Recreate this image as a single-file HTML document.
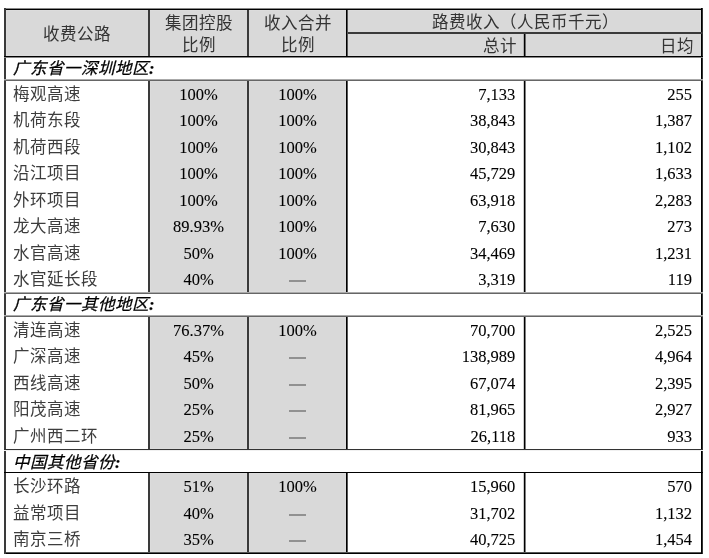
<!DOCTYPE html>
<html lang="zh-CN"><head><meta charset="utf-8"><title>路费收入</title>
<style>
html,body{margin:0;padding:0;background:#fff;}
body{width:709px;height:558px;position:relative;overflow:hidden;filter:grayscale(1);font-family:"Liberation Serif",serif;font-size:16.5px;color:#000;}
.r{position:absolute;}
.t{position:absolute;line-height:20px;height:20px;white-space:nowrap;}
.sec{font-style:italic;-webkit-text-stroke:0.25px #000;}
.c{color:#3d3d3d;}
.h{color:#333;}
.n{-webkit-text-stroke:0.1px #000;}
</style></head><body>
<div class="r" style="left:6px;top:10px;width:695px;height:46px;background:#d9d9d9;box-shadow:inset 0 0 0 1px #dcdcdc"></div>
<div class="r" style="left:150px;top:81px;width:97px;height:211px;background:#d9d9d9;box-shadow:inset 0 0 0 1px #dcdcdc"></div>
<div class="r" style="left:249px;top:81px;width:97px;height:211px;background:#d9d9d9;box-shadow:inset 0 0 0 1px #dcdcdc"></div>
<div class="r" style="left:150px;top:317px;width:97px;height:132px;background:#d9d9d9;box-shadow:inset 0 0 0 1px #dcdcdc"></div>
<div class="r" style="left:249px;top:317px;width:97px;height:132px;background:#d9d9d9;box-shadow:inset 0 0 0 1px #dcdcdc"></div>
<div class="r" style="left:150px;top:473px;width:97px;height:79px;background:#d9d9d9;box-shadow:inset 0 0 0 1px #dcdcdc"></div>
<div class="r" style="left:249px;top:473px;width:97px;height:79px;background:#d9d9d9;box-shadow:inset 0 0 0 1px #dcdcdc"></div>
<div class="r" style="left:4px;top:8px;width:699px;height:1px;background:#888888;"></div>
<div class="r" style="left:4px;top:9px;width:699px;height:1px;background:#000000;"></div>
<div class="r" style="left:4px;top:552px;width:699px;height:1px;background:#555555;"></div>
<div class="r" style="left:4px;top:553px;width:699px;height:1px;background:#000000;"></div>
<div class="r" style="left:4px;top:8px;width:1px;height:546px;background:#3a3a3a;"></div>
<div class="r" style="left:5px;top:8px;width:1px;height:546px;background:#3a3a3a;"></div>
<div class="r" style="left:701px;top:8px;width:1px;height:546px;background:#000000;"></div>
<div class="r" style="left:702px;top:8px;width:1px;height:546px;background:#333333;"></div>
<div class="r" style="left:346px;top:32px;width:357px;height:1px;background:#3a3a3a;"></div>
<div class="r" style="left:346px;top:33px;width:357px;height:1px;background:#3a3a3a;"></div>
<div class="r" style="left:4px;top:56px;width:699px;height:1px;background:#000000;"></div>
<div class="r" style="left:4px;top:57px;width:699px;height:1px;background:#888888;"></div>
<div class="r" style="left:4px;top:79px;width:699px;height:1px;background:#aaaaaa;"></div>
<div class="r" style="left:4px;top:80px;width:699px;height:1px;background:#666666;"></div>
<div class="r" style="left:4px;top:292px;width:699px;height:1px;background:#aaaaaa;"></div>
<div class="r" style="left:4px;top:293px;width:699px;height:1px;background:#666666;"></div>
<div class="r" style="left:4px;top:315px;width:699px;height:1px;background:#aaaaaa;"></div>
<div class="r" style="left:4px;top:316px;width:699px;height:1px;background:#666666;"></div>
<div class="r" style="left:4px;top:449px;width:699px;height:1px;background:#333333;"></div>
<div class="r" style="left:4px;top:450px;width:699px;height:1px;background:#f0f0f0;"></div>
<div class="r" style="left:4px;top:472px;width:699px;height:1px;background:#000000;"></div>
<div class="r" style="left:148px;top:10px;width:1px;height:46px;background:#3a3a3a;"></div>
<div class="r" style="left:149px;top:10px;width:1px;height:46px;background:#3a3a3a;"></div>
<div class="r" style="left:247px;top:10px;width:1px;height:46px;background:#3a3a3a;"></div>
<div class="r" style="left:248px;top:10px;width:1px;height:46px;background:#3a3a3a;"></div>
<div class="r" style="left:346px;top:10px;width:1px;height:46px;background:#000000;"></div>
<div class="r" style="left:347px;top:10px;width:1px;height:46px;background:#555555;"></div>
<div class="r" style="left:148px;top:81px;width:1px;height:211px;background:#3a3a3a;"></div>
<div class="r" style="left:149px;top:81px;width:1px;height:211px;background:#3a3a3a;"></div>
<div class="r" style="left:247px;top:81px;width:1px;height:211px;background:#3a3a3a;"></div>
<div class="r" style="left:248px;top:81px;width:1px;height:211px;background:#3a3a3a;"></div>
<div class="r" style="left:346px;top:81px;width:1px;height:211px;background:#000000;"></div>
<div class="r" style="left:347px;top:81px;width:1px;height:211px;background:#555555;"></div>
<div class="r" style="left:148px;top:317px;width:1px;height:132px;background:#3a3a3a;"></div>
<div class="r" style="left:149px;top:317px;width:1px;height:132px;background:#3a3a3a;"></div>
<div class="r" style="left:247px;top:317px;width:1px;height:132px;background:#3a3a3a;"></div>
<div class="r" style="left:248px;top:317px;width:1px;height:132px;background:#3a3a3a;"></div>
<div class="r" style="left:346px;top:317px;width:1px;height:132px;background:#000000;"></div>
<div class="r" style="left:347px;top:317px;width:1px;height:132px;background:#555555;"></div>
<div class="r" style="left:148px;top:473px;width:1px;height:79px;background:#3a3a3a;"></div>
<div class="r" style="left:149px;top:473px;width:1px;height:79px;background:#3a3a3a;"></div>
<div class="r" style="left:247px;top:473px;width:1px;height:79px;background:#3a3a3a;"></div>
<div class="r" style="left:248px;top:473px;width:1px;height:79px;background:#3a3a3a;"></div>
<div class="r" style="left:346px;top:473px;width:1px;height:79px;background:#000000;"></div>
<div class="r" style="left:347px;top:473px;width:1px;height:79px;background:#555555;"></div>
<div class="r" style="left:523px;top:34px;width:1px;height:22px;background:rgba(0,0,0,0.2);"></div>
<div class="r" style="left:524px;top:34px;width:1px;height:22px;background:#000000;"></div>
<div class="r" style="left:525px;top:34px;width:1px;height:22px;background:rgba(0,0,0,0.5);"></div>
<div class="r" style="left:523px;top:81px;width:1px;height:211px;background:rgba(0,0,0,0.2);"></div>
<div class="r" style="left:524px;top:81px;width:1px;height:211px;background:#000000;"></div>
<div class="r" style="left:525px;top:81px;width:1px;height:211px;background:rgba(0,0,0,0.5);"></div>
<div class="r" style="left:523px;top:317px;width:1px;height:132px;background:rgba(0,0,0,0.2);"></div>
<div class="r" style="left:524px;top:317px;width:1px;height:132px;background:#000000;"></div>
<div class="r" style="left:525px;top:317px;width:1px;height:132px;background:rgba(0,0,0,0.5);"></div>
<div class="r" style="left:523px;top:473px;width:1px;height:79px;background:rgba(0,0,0,0.2);"></div>
<div class="r" style="left:524px;top:473px;width:1px;height:79px;background:#000000;"></div>
<div class="r" style="left:525px;top:473px;width:1px;height:79px;background:rgba(0,0,0,0.5);"></div>
<div class="t c h" style="left:6px;top:25.00px;width:142px;text-align:center;">收费公路</div>
<div class="t c h" style="left:150px;top:14.00px;width:97px;text-align:center;">集团控股</div>
<div class="t c h" style="left:150px;top:36.00px;width:97px;text-align:center;">比例</div>
<div class="t c h" style="left:249px;top:14.00px;width:97px;text-align:center;">收入合并</div>
<div class="t c h" style="left:249px;top:36.00px;width:97px;text-align:center;">比例</div>
<div class="t c h" style="left:349px;top:13.00px;width:353px;text-align:center;">路费收入（人民币千元）</div>
<div class="t c h" style="left:348px;top:37.00px;width:169px;text-align:right;">总计</div>
<div class="t c h" style="left:526px;top:37.00px;width:168px;text-align:right;">日均</div>
<div class="t sec" style="left:13px;top:59.00px;width:300px;text-align:left;">广东省一深圳地区<b>:</b></div>
<div class="t c" style="left:13px;top:85.00px;width:135px;text-align:left;">梅观高速</div>
<div class="t n" style="left:150px;top:85.00px;width:97px;text-align:center;">100%</div>
<div class="t n" style="left:249px;top:85.00px;width:97px;text-align:center;">100%</div>
<div class="t n" style="left:348px;top:85.00px;width:167.3px;text-align:right;">7,133</div>
<div class="t n" style="left:526px;top:85.00px;width:166px;text-align:right;">255</div>
<div class="t c" style="left:13px;top:111.00px;width:135px;text-align:left;">机荷东段</div>
<div class="t n" style="left:150px;top:111.00px;width:97px;text-align:center;">100%</div>
<div class="t n" style="left:249px;top:111.00px;width:97px;text-align:center;">100%</div>
<div class="t n" style="left:348px;top:111.00px;width:167.3px;text-align:right;">38,843</div>
<div class="t n" style="left:526px;top:111.00px;width:166px;text-align:right;">1,387</div>
<div class="t c" style="left:13px;top:138.00px;width:135px;text-align:left;">机荷西段</div>
<div class="t n" style="left:150px;top:138.00px;width:97px;text-align:center;">100%</div>
<div class="t n" style="left:249px;top:138.00px;width:97px;text-align:center;">100%</div>
<div class="t n" style="left:348px;top:138.00px;width:167.3px;text-align:right;">30,843</div>
<div class="t n" style="left:526px;top:138.00px;width:166px;text-align:right;">1,102</div>
<div class="t c" style="left:13px;top:164.00px;width:135px;text-align:left;">沿江项目</div>
<div class="t n" style="left:150px;top:164.00px;width:97px;text-align:center;">100%</div>
<div class="t n" style="left:249px;top:164.00px;width:97px;text-align:center;">100%</div>
<div class="t n" style="left:348px;top:164.00px;width:167.3px;text-align:right;">45,729</div>
<div class="t n" style="left:526px;top:164.00px;width:166px;text-align:right;">1,633</div>
<div class="t c" style="left:13px;top:191.00px;width:135px;text-align:left;">外环项目</div>
<div class="t n" style="left:150px;top:191.00px;width:97px;text-align:center;">100%</div>
<div class="t n" style="left:249px;top:191.00px;width:97px;text-align:center;">100%</div>
<div class="t n" style="left:348px;top:191.00px;width:167.3px;text-align:right;">63,918</div>
<div class="t n" style="left:526px;top:191.00px;width:166px;text-align:right;">2,283</div>
<div class="t c" style="left:13px;top:217.00px;width:135px;text-align:left;">龙大高速</div>
<div class="t n" style="left:150px;top:217.00px;width:97px;text-align:center;">89.93%</div>
<div class="t n" style="left:249px;top:217.00px;width:97px;text-align:center;">100%</div>
<div class="t n" style="left:348px;top:217.00px;width:167.3px;text-align:right;">7,630</div>
<div class="t n" style="left:526px;top:217.00px;width:166px;text-align:right;">273</div>
<div class="t c" style="left:13px;top:244.00px;width:135px;text-align:left;">水官高速</div>
<div class="t n" style="left:150px;top:244.00px;width:97px;text-align:center;">50%</div>
<div class="t n" style="left:249px;top:244.00px;width:97px;text-align:center;">100%</div>
<div class="t n" style="left:348px;top:244.00px;width:167.3px;text-align:right;">34,469</div>
<div class="t n" style="left:526px;top:244.00px;width:166px;text-align:right;">1,231</div>
<div class="t c" style="left:13px;top:270.00px;width:135px;text-align:left;">水官延长段</div>
<div class="t n" style="left:150px;top:270.00px;width:97px;text-align:center;">40%</div>
<div class="r" style="left:289px;top:280px;width:17px;height:2px;background:#919191;"></div>
<div class="t n" style="left:348px;top:270.00px;width:167.3px;text-align:right;">3,319</div>
<div class="t n" style="left:526px;top:270.00px;width:166px;text-align:right;">119</div>
<div class="t sec" style="left:13px;top:295.00px;width:300px;text-align:left;">广东省一其他地区<b>:</b></div>
<div class="t c" style="left:13px;top:321.00px;width:135px;text-align:left;">清连高速</div>
<div class="t n" style="left:150px;top:321.00px;width:97px;text-align:center;">76.37%</div>
<div class="t n" style="left:249px;top:321.00px;width:97px;text-align:center;">100%</div>
<div class="t n" style="left:348px;top:321.00px;width:167.3px;text-align:right;">70,700</div>
<div class="t n" style="left:526px;top:321.00px;width:166px;text-align:right;">2,525</div>
<div class="t c" style="left:13px;top:347.00px;width:135px;text-align:left;">广深高速</div>
<div class="t n" style="left:150px;top:347.00px;width:97px;text-align:center;">45%</div>
<div class="r" style="left:289px;top:357px;width:17px;height:2px;background:#919191;"></div>
<div class="t n" style="left:348px;top:347.00px;width:167.3px;text-align:right;">138,989</div>
<div class="t n" style="left:526px;top:347.00px;width:166px;text-align:right;">4,964</div>
<div class="t c" style="left:13px;top:374.00px;width:135px;text-align:left;">西线高速</div>
<div class="t n" style="left:150px;top:374.00px;width:97px;text-align:center;">50%</div>
<div class="r" style="left:289px;top:384px;width:17px;height:2px;background:#919191;"></div>
<div class="t n" style="left:348px;top:374.00px;width:167.3px;text-align:right;">67,074</div>
<div class="t n" style="left:526px;top:374.00px;width:166px;text-align:right;">2,395</div>
<div class="t c" style="left:13px;top:400.00px;width:135px;text-align:left;">阳茂高速</div>
<div class="t n" style="left:150px;top:400.00px;width:97px;text-align:center;">25%</div>
<div class="r" style="left:289px;top:410px;width:17px;height:2px;background:#919191;"></div>
<div class="t n" style="left:348px;top:400.00px;width:167.3px;text-align:right;">81,965</div>
<div class="t n" style="left:526px;top:400.00px;width:166px;text-align:right;">2,927</div>
<div class="t c" style="left:13px;top:427.00px;width:135px;text-align:left;">广州西二环</div>
<div class="t n" style="left:150px;top:427.00px;width:97px;text-align:center;">25%</div>
<div class="r" style="left:289px;top:437px;width:17px;height:2px;background:#919191;"></div>
<div class="t n" style="left:348px;top:427.00px;width:167.3px;text-align:right;">26,118</div>
<div class="t n" style="left:526px;top:427.00px;width:166px;text-align:right;">933</div>
<div class="t sec" style="left:13px;top:453.00px;width:300px;text-align:left;">中国其他省份<b>:</b></div>
<div class="t c" style="left:13px;top:477.00px;width:135px;text-align:left;">长沙环路</div>
<div class="t n" style="left:150px;top:477.00px;width:97px;text-align:center;">51%</div>
<div class="t n" style="left:249px;top:477.00px;width:97px;text-align:center;">100%</div>
<div class="t n" style="left:348px;top:477.00px;width:167.3px;text-align:right;">15,960</div>
<div class="t n" style="left:526px;top:477.00px;width:166px;text-align:right;">570</div>
<div class="t c" style="left:13px;top:504.00px;width:135px;text-align:left;">益常项目</div>
<div class="t n" style="left:150px;top:504.00px;width:97px;text-align:center;">40%</div>
<div class="r" style="left:289px;top:514px;width:17px;height:2px;background:#919191;"></div>
<div class="t n" style="left:348px;top:504.00px;width:167.3px;text-align:right;">31,702</div>
<div class="t n" style="left:526px;top:504.00px;width:166px;text-align:right;">1,132</div>
<div class="t c" style="left:13px;top:530.00px;width:135px;text-align:left;">南京三桥</div>
<div class="t n" style="left:150px;top:530.00px;width:97px;text-align:center;">35%</div>
<div class="r" style="left:289px;top:540px;width:17px;height:2px;background:#919191;"></div>
<div class="t n" style="left:348px;top:530.00px;width:167.3px;text-align:right;">40,725</div>
<div class="t n" style="left:526px;top:530.00px;width:166px;text-align:right;">1,454</div>
</body></html>
